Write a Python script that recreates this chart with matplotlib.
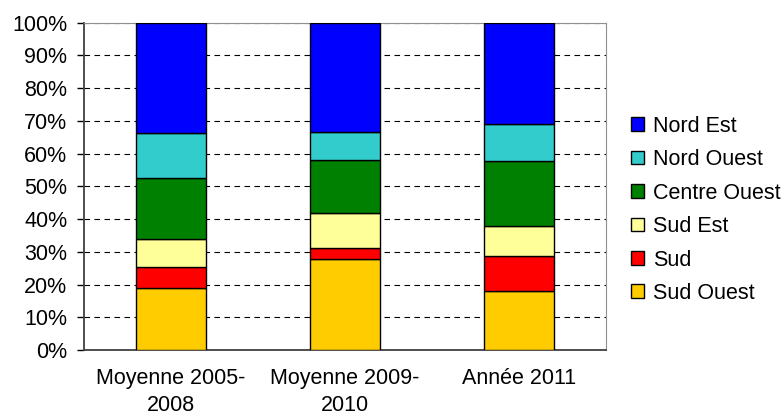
import numpy as np
import matplotlib
matplotlib.use('Agg')
import matplotlib.pyplot as plt
from matplotlib.ticker import PercentFormatter

plt.rcParams['font.family'] = ['Liberation Sans', 'DejaVu Sans']

categories = ['Moyenne 2005-\n2008', 'Moyenne 2009-\n2010', 'Année 2011']
series = ['Sud Ouest', 'Sud', 'Sud Est', 'Centre Ouest', 'Nord Ouest', 'Nord Est']
colors = ['#FFCC00', '#FF0000', '#FFFF99', '#008000', '#33CCCC', '#0000FF']

# shares in percent, bottom to top
sud_ouest = [18.9, 27.9, 18.1]
sud = [6.6, 3.2, 10.7]
sud_est = [8.5, 10.7, 9.1]
centre_ouest = [18.6, 16.3, 19.8]
nord_ouest = [13.7, 8.6, 11.2]
nord_est = [33.7, 33.3, 31.1]

values = [sud_ouest, sud, sud_est, centre_ouest, nord_ouest, nord_est]

fig = plt.figure(figsize=(7.84, 4.19), dpi=100)
ax = fig.add_axes([84 / 784, 1 - 350 / 419, (606 - 84) / 784, (350 - 22.7) / 419])

x = np.arange(len(categories))
bottom = np.zeros(len(categories))
handles = []
for name, vals, col in zip(series, values, colors):
    b = ax.bar(x, vals, 0.4, bottom=bottom, color=col, edgecolor='black',
               linewidth=1, label=name, zorder=3)
    handles.append(b)
    bottom += np.array(vals)

ax.set_xlim(-0.5, 2.5)
ax.set_ylim(0, 100)
ax.set_yticks(np.arange(0, 101, 10))
ax.yaxis.set_major_formatter(PercentFormatter(decimals=0))
ax.set_xticks(x)
ax.set_xticklabels(categories, fontsize=15.5, linespacing=1.35)
ax.tick_params(axis='x', length=0, pad=13)
ax.tick_params(axis='y', labelsize=15.5, length=5, width=1, pad=7)

ax.yaxis.grid(True, linestyle=(0, (5, 4)), color='black', linewidth=0.8, zorder=0)
ax.set_axisbelow(True)

for s in ['top', 'right']:
    ax.spines[s].set_color('#909090')
for s in ['left', 'bottom']:
    ax.spines[s].set_color('#404040')
    ax.spines[s].set_linewidth(1.3)

leg = fig.legend(handles[::-1], series[::-1], loc='upper left',
                 bbox_to_anchor=(622 / 784, 1 - 107 / 419), frameon=False,
                 fontsize=15.5, handlelength=0.62, handleheight=0.62,
                 handletextpad=0.4, labelspacing=0.58, borderaxespad=0)

fig.savefig('out.png', dpi=100)
